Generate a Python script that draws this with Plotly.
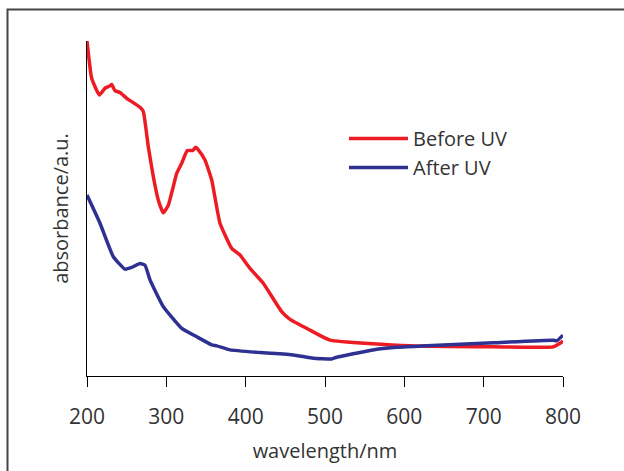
import plotly.graph_objects as go

# Before UV (red)
before_nm = [200, 205.9, 215.5, 222.7, 229.0, 231.1, 235.3, 241.6, 250.0, 266.8, 271.0, 277.3,
             283.6, 289.9, 296.2, 302.5, 313.1, 319.4, 326.4, 333.2, 337.0, 340.3, 348.7, 357.2,
             362.6, 367.6, 382.4, 392.9, 405.5, 422.2, 445.4, 455.9, 481.1, 506.3, 607.1, 711.8,
             787.8, 798.4, 800]
before_abs = [1.0, 0.889, 0.839, 0.859, 0.866, 0.870, 0.852, 0.846, 0.829, 0.802, 0.789, 0.684,
              0.595, 0.525, 0.487, 0.510, 0.605, 0.635, 0.673, 0.673, 0.683, 0.675, 0.645, 0.585,
              0.516, 0.456, 0.381, 0.361, 0.321, 0.277, 0.192, 0.169, 0.137, 0.107, 0.090, 0.087,
              0.087, 0.101, 0.105]

# After UV (blue)
after_nm = [200, 216.4, 233.2, 247.9, 256.3, 266.8, 273.1, 279.4, 296.2, 319.4, 338.3, 357.2,
            363.5, 380.3, 418.1, 460.0, 485.3, 508.4, 514.7, 565.2, 590.4, 628.2, 712.2, 787.8,
            792.1, 800]
after_abs = [0.540, 0.456, 0.356, 0.319, 0.324, 0.336, 0.331, 0.287, 0.207, 0.142, 0.117, 0.093,
             0.090, 0.078, 0.070, 0.063, 0.053, 0.051, 0.056, 0.080, 0.086, 0.090, 0.099, 0.107,
             0.105, 0.122]

x_ticks = [200, 300, 400, 500, 600, 700, 800]

FONT = "Open Sans"
TXT = "#333333"

fig = go.Figure()
fig.add_trace(go.Scatter(x=before_nm, y=before_abs, mode="lines", name="Before UV",
                         line=dict(color="#ED1C24", width=3.5, shape="spline", smoothing=0.4),
                         cliponaxis=False))
fig.add_trace(go.Scatter(x=after_nm, y=after_abs, mode="lines", name="After UV",
                         line=dict(color="#2E3192", width=3.5, shape="spline", smoothing=0.4),
                         cliponaxis=False))

# outer frame (left and top edges visible)
fig.add_shape(type="rect", xref="paper", yref="paper",
              x0=(7.5 - 87) / 476, x1=1.3, y0=-0.5, y1=(376 - 9.5) / 335,
              line=dict(color="#444444", width=2), layer="below")

fig.update_layout(
    width=624, height=471,
    margin=dict(l=87, r=61, t=41, b=95),
    paper_bgcolor="white", plot_bgcolor="white",
    font=dict(family=FONT, color=TXT, size=20),
    showlegend=True,
    legend=dict(x=(344 - 87) / 476, y=(376 - 119) / 335, xanchor="left", yanchor="top",
                bgcolor="rgba(0,0,0,0)", font=dict(size=20, color=TXT, family=FONT),
                itemwidth=59, tracegroupgap=0),
    xaxis=dict(range=[200, 800], tickvals=x_ticks, ticks="outside", ticklen=10,
               tickcolor="black", showline=True, linecolor="black", linewidth=1,
               showgrid=False, zeroline=False, tickfont=dict(size=21, color=TXT),
               ticklabelstandoff=12,
               title=dict(text="wavelength/nm", font=dict(size=20, color=TXT), standoff=14)),
    yaxis=dict(range=[0, 1], showticklabels=False, ticks="", showline=True,
               linecolor="black", linewidth=1, showgrid=False, zeroline=False,
               title=dict(text="absorbance/a.u.", font=dict(size=20, color=TXT), standoff=12)),
)

fig.write_html("out.html")
